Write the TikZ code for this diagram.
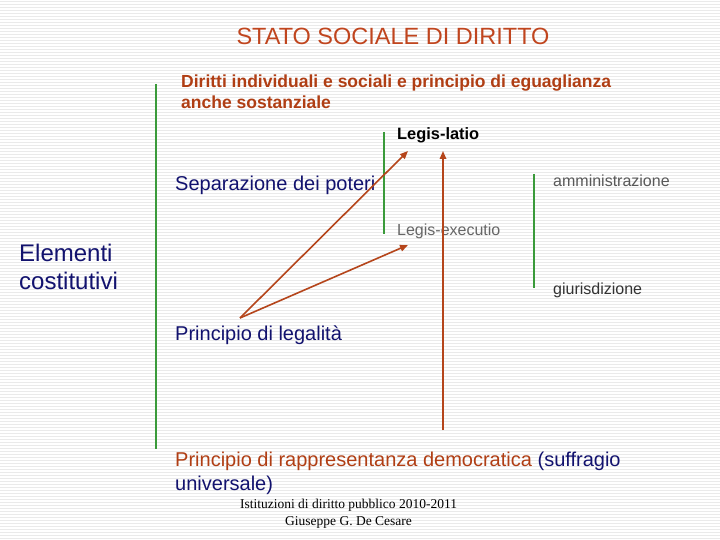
\documentclass[tikz,border=0pt]{standalone}
\usepackage{fontspec}
\setmainfont{Liberation Sans}
\newfontfamily\timesfont{Liberation Serif}
\usetikzlibrary{arrows.meta}
\definecolor{titlered}{HTML}{C0451E}
\definecolor{darkred}{HTML}{B03E14}
\definecolor{navy}{HTML}{12126E}
\definecolor{sepgreen}{HTML}{3A9A3A}
\definecolor{arrowred}{HTML}{B5451B}
\definecolor{stripe}{HTML}{EAEAEA}
\tikzset{
  lbl/.style={inner sep=0pt, anchor=base west},
  greenline/.style={draw=sepgreen, line width=1.2pt},
  redarrow/.style={draw=arrowred, line width=1.6pt, -{Triangle[length=8pt,width=6.5pt]}},
}
\begin{document}
\begin{tikzpicture}[x=1pt,y=-1pt]
\path[use as bounding box, fill=white] (0,0) rectangle (720,540);
\foreach \yy in {1.5,4.5,...,540} {\draw[stripe, line width=1.1pt] (0,\yy) -- (720,\yy);}
% title
\node[inner sep=0pt, anchor=base, text=titlered, font=\fontsize{23.5}{28}\selectfont] (title) at (393,45) {STATO SOCIALE DI DIRITTO};
\node[lbl, text=darkred, font=\bfseries\fontsize{17.5}{21}\selectfont] (dir1) at (181,88) {Diritti individuali e sociali e principio di eguaglianza};
\node[lbl, text=darkred, font=\bfseries\fontsize{17.5}{21}\selectfont] (dir2) at (181,109) {anche sostanziale};
% green separators
\draw[greenline] (156,84) -- (156,449);
\draw[greenline] (384,132) -- (384,234);
\draw[greenline] (534,174) -- (534,288);
% labels
\node[lbl, text=black, font=\bfseries\fontsize{16.4}{20}\selectfont] (latio) at (397,140) {Legis-latio};
\node[lbl, text=black!65, font=\fontsize{16}{20}\selectfont] (ammin) at (553,187) {amministrazione};
\node[lbl, text=black!60, font=\fontsize{16}{20}\selectfont] (exec) at (397,236) {Legis-executio};
\node[lbl, text=black!80, font=\fontsize{16}{20}\selectfont] (giur) at (553,294) {giurisdizione};
\node[lbl, text=navy, font=\fontsize{20}{24}\selectfont] (sep) at (175,191) {Separazione dei poteri};
\node[lbl, text=navy, font=\fontsize{24}{28}\selectfont] (elem1) at (19,261) {Elementi};
\node[lbl, text=navy, font=\fontsize{24}{28}\selectfont] (elem2) at (19,289) {costitutivi};
\node[lbl, text=navy, font=\fontsize{20}{24}\selectfont] (leg) at (175,340) {Principio di legalità};
\node[lbl, font=\fontsize{20}{24}\selectfont] (rapp1) at (175,466) {\textcolor{darkred}{Principio di rappresentanza democratica} \textcolor{navy}{(suffragio}};
\node[lbl, text=navy, font=\fontsize{20}{24}\selectfont] (rapp2) at (175,490) {universale)};
% footer
\node[inner sep=0pt, anchor=base, text=black, font=\timesfont\fontsize{13.5}{16}\selectfont] (foot1) at (348.5,508) {Istituzioni di diritto pubblico 2010-2011};
\node[inner sep=0pt, anchor=base, text=black, font=\timesfont\fontsize{13.5}{16}\selectfont] (foot2) at (348.5,525) {Giuseppe G. De Cesare};
% arrows
\coordinate (src) at (240,318);
\coordinate (tlatio) at (408,151);
\coordinate (texec) at (408,245);
\coordinate (vbot) at (443,430);
\coordinate (vtop) at (443,151);
\draw[redarrow] (src) -- (tlatio);
\draw[redarrow] (src) -- (texec);
\draw[redarrow] (vbot) -- (vtop);
\end{tikzpicture}
\end{document}
